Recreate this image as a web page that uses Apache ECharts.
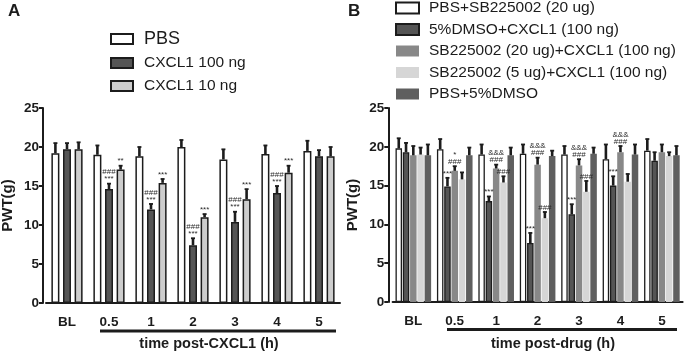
<!DOCTYPE html>
<html>
<head>
<meta charset="utf-8">
<script src="https://cdn.jsdelivr.net/npm/echarts@6/dist/echarts.min.js"></script>
<style>
  html, body { margin: 0; padding: 0; background: #fff; }
  #chart { width: 685px; height: 353px; }
</style>
</head>
<body>
<div id="chart"></div>
<script>
// x categories (both panels)
const timeCats = ['BL', '0.5', '1', '2', '3', '4', '5'];

// panel A: PWT(g) mean and SEM
const pbsA = [19.2, 19.0, 18.8, 20.0, 18.4, 19.1, 19.5];
const pbsA_sem = [1.3, 1.2, 1.2, 0.9, 1.3, 1.1, 1.3];
const cx100A = [19.7, 14.6, 12.0, 7.4, 10.4, 14.1, 18.8];
const cx100A_sem = [0.8, 0.7, 0.7, 0.9, 1.3, 0.9, 0.8];
const cx10A = [19.7, 17.1, 15.4, 11.0, 13.3, 16.7, 18.8];
const cx10A_sem = [0.9, 0.5, 0.5, 0.4, 1.3, 0.9, 1.2];
const cx100A_marks = ['', '###\n***', '###\n***', '###\n***', '###\n***', '###\n***', ''];
const cx10A_marks = ['', '**', '***', '***', '***', '***', ''];

// panel B
const sb20B = [19.8, 19.7, 19.0, 19.1, 19.0, 18.4, 19.5];
const sb20B_sem = [1.3, 1.3, 1.3, 1.2, 1.1, 1.9, 1.5];
const dmsoCxB = [19.3, 14.9, 13.0, 7.6, 11.3, 15.0, 18.2];
const dmsoCxB_sem = [1.2, 1.1, 0.6, 1.3, 1.3, 1.2, 1.1];
const sb20CxB = [18.9, 16.9, 17.2, 17.7, 17.6, 19.3, 19.3];
const sb20CxB_sem = [1.2, 0.6, 0.5, 0.9, 0.8, 0.8, 1.0];
const sb5CxB = [19.0, 15.8, 15.4, 10.8, 14.2, 15.5, 18.8];
const sb5CxB_sem = [0.9, 0.9, 0.8, 0.8, 1.4, 1.0, 0.5];
const pbsDmsoB = [18.9, 18.9, 18.9, 18.8, 19.1, 19.0, 18.9];
const pbsDmsoB_sem = [1.4, 1.0, 1.0, 0.7, 0.8, 1.3, 1.2];
const dmsoCxB_marks = ['', '***', '***', '***', '***', '***', ''];
const sb20CxB_marks = ['', '*\n###', '&&&\n###', '&&&\n###', '&&&\n###', '&&&\n###', ''];
const sb5CxB_marks = ['', '', '###', '###', '###', '', ''];

const FONT = 'Liberation Sans, Arial, sans-serif';
const INK = '#1c1c1c';

const chart = echarts.init(document.getElementById('chart'));

function errSeries(name, axis, mean, sem, marks, k, n, pitch) {
    return {
        name: name,
        type: 'custom',
        xAxisIndex: axis,
        yAxisIndex: axis,
        z: 5,
        silent: true,
        data: mean.map((v, i) => [i, v, v + sem[i], i]),
        renderItem: function (params, api) {
            const base = api.coord([api.value(0), api.value(1)]);
            const tip = api.coord([api.value(0), api.value(2)]);
            const x = base[0] + (k - (n - 1) / 2) * pitch;
            const txt = marks ? marks[api.value(3)] : '';
            return {
                type: 'group',
                children: [
                    { type: 'line', shape: { x1: x, y1: base[1], x2: x, y2: tip[1] },
                      style: { stroke: INK, lineWidth: 2.6 } },
                    { type: 'line', shape: { x1: x - 2, y1: tip[1], x2: x + 2, y2: tip[1] },
                      style: { stroke: INK, lineWidth: 1.8 } },
                    { type: 'text', x: x, y: tip[1] - 1,
                      style: { text: txt, fill: '#2a2a2a', font: '8px ' + FONT,
                               align: 'center', verticalAlign: 'bottom', lineHeight: 7 } }
                ]
            };
        }
    };
}

function barA(name, data, color) {
    return {
        name: name, type: 'bar', xAxisIndex: 0, yAxisIndex: 0, data: data,
        barWidth: 8, barGap: '45%',
        itemStyle: { color: color, borderColor: INK, borderWidth: 1.5 }
    };
}

function barB(name, data, color, border) {
    return {
        name: name, type: 'bar', xAxisIndex: 1, yAxisIndex: 1, data: data,
        barWidth: 6.5, barGap: '12%',
        itemStyle: border ? { color: color, borderColor: INK, borderWidth: 1.3 } : { color: color }
    };
}

function xAxisCfg(grid) {
    return {
        type: 'category', gridIndex: grid, data: timeCats,
        axisLine: { lineStyle: { color: INK, width: 2 } },
        axisTick: { alignWithLabel: true, length: 4, lineStyle: { color: INK, width: 2 } },
        axisLabel: { fontFamily: FONT, fontWeight: 'bold', fontSize: 13.5, color: INK, margin: 12 }
    };
}

function yAxisCfg(grid, offset) {
    return {
        type: 'value', gridIndex: grid, min: 0, max: 25, interval: 5, offset: offset,
        name: 'PWT(g)', nameLocation: 'middle', nameRotate: 90, nameGap: 28,
        nameTextStyle: { fontFamily: FONT, fontWeight: 'bold', fontSize: 15, color: INK },
        axisLine: { show: true, lineStyle: { color: INK, width: 2 } },
        axisTick: { show: true, length: 4, lineStyle: { color: INK, width: 2 } },
        axisLabel: { fontFamily: FONT, fontWeight: 'bold', fontSize: 13.5, color: INK, margin: 4 },
        splitLine: { show: false }
    };
}

const pitchA = 8 * 1.45;
const pitchB = 6.5 * 1.12;

const option = {
    animation: false,
    backgroundColor: '#fff',
    textStyle: { fontFamily: FONT },
    grid: [
        { left: 46, top: 108, width: 294, height: 195, outerBoundsMode: 'none' },
        { left: 392.6, top: 108, width: 290, height: 194, outerBoundsMode: 'none' }
    ],
    xAxis: [xAxisCfg(0), xAxisCfg(1)],
    yAxis: [yAxisCfg(0, 3), yAxisCfg(1, 4.3)],
    legend: [
        {
            orient: 'vertical', left: 110, top: 30, itemGap: 7, padding: 0,
            itemWidth: 22, itemHeight: 10, icon: 'rect',
            textStyle: { fontFamily: FONT, fontSize: 15.5, color: INK, lineHeight: 14, padding: [0, 0, 0, 6] },
            data: [
                { name: 'PBS', textStyle: { fontSize: 18, lineHeight: 18 } },
                'CXCL1 100 ng', 'CXCL1 10 ng'
            ]
        },
        {
            orient: 'vertical', left: 395, top: 0, itemGap: 5.5, padding: 0,
            itemWidth: 23, itemHeight: 11, icon: 'rect',
            textStyle: { fontFamily: FONT, fontSize: 15.5, color: INK, lineHeight: 16, padding: [0, 0, 0, 5] },
            data: ['PBS+SB225002 (20 ug)', '5%DMSO+CXCL1 (100 ng)', 'SB225002 (20 ug)+CXCL1 (100 ng)',
                   'SB225002 (5 ug)+CXCL1 (100 ng)', 'PBS+5%DMSO']
        }
    ],
    graphic: [
        { type: 'text', left: 8, top: 3, style: { text: 'A', font: 'bold 17px ' + FONT, fill: INK } },
        { type: 'text', left: 348, top: 3, style: { text: 'B', font: 'bold 17px ' + FONT, fill: INK } },
        { type: 'rect', shape: { x: 100, y: 329.5, width: 236, height: 3 }, style: { fill: INK } },
        { type: 'text', x: 209, y: 344, style: { text: 'time post-CXCL1 (h)', font: 'bold 14.5px ' + FONT,
          fill: INK, align: 'center', verticalAlign: 'middle' } },
        { type: 'rect', shape: { x: 447, y: 328, width: 230, height: 3 }, style: { fill: INK } },
        { type: 'text', x: 553, y: 343.5, style: { text: 'time post-drug (h)', font: 'bold 14.5px ' + FONT,
          fill: INK, align: 'center', verticalAlign: 'middle' } }
    ],
    series: [
        barA('PBS', pbsA, '#ffffff'),
        barA('CXCL1 100 ng', cx100A, '#555555'),
        barA('CXCL1 10 ng', cx10A, '#cdcdcd'),
        errSeries('eA0', 0, pbsA, pbsA_sem, null, 0, 3, pitchA),
        errSeries('eA1', 0, cx100A, cx100A_sem, cx100A_marks, 1, 3, pitchA),
        errSeries('eA2', 0, cx10A, cx10A_sem, cx10A_marks, 2, 3, pitchA),

        barB('PBS+SB225002 (20 ug)', sb20B, '#ffffff', true),
        barB('5%DMSO+CXCL1 (100 ng)', dmsoCxB, '#555555', true),
        barB('SB225002 (20 ug)+CXCL1 (100 ng)', sb20CxB, '#888888', false),
        barB('SB225002 (5 ug)+CXCL1 (100 ng)', sb5CxB, '#d6d6d6', false),
        barB('PBS+5%DMSO', pbsDmsoB, '#5f5f5f', false),
        errSeries('eB0', 1, sb20B, sb20B_sem, null, 0, 5, pitchB),
        errSeries('eB1', 1, dmsoCxB, dmsoCxB_sem, dmsoCxB_marks, 1, 5, pitchB),
        errSeries('eB2', 1, sb20CxB, sb20CxB_sem, sb20CxB_marks, 2, 5, pitchB),
        errSeries('eB3', 1, sb5CxB, sb5CxB_sem, sb5CxB_marks, 3, 5, pitchB),
        errSeries('eB4', 1, pbsDmsoB, pbsDmsoB_sem, null, 4, 5, pitchB)
    ]
};

chart.setOption(option);
</script>
</body>
</html>
